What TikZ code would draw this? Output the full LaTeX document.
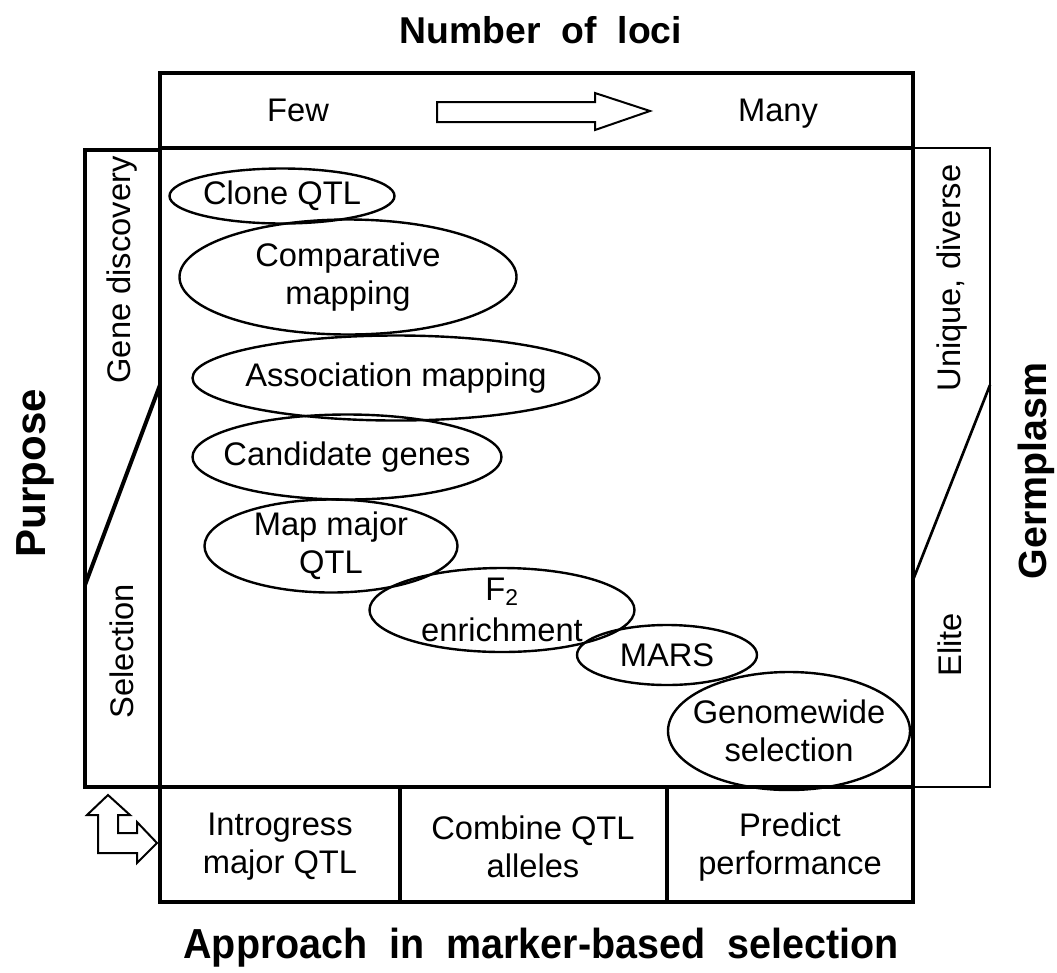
\documentclass[tikz,border=0pt]{standalone}
\usepackage{fontspec}
\setmainfont{Liberation Sans}
\usetikzlibrary{shapes.geometric}

\begin{document}
\begin{tikzpicture}[x=0.75pt,y=-0.75pt,
  lbl/.style={font=\fontsize{24.5}{28.5}\selectfont, align=center, inner sep=0pt},
  head/.style={font=\bfseries\fontsize{28}{33}\selectfont, inner sep=0pt},
  frame/.style={line width=3pt},
  thinframe/.style={line width=2pt},
  oval/.style 2 args={draw, ellipse, line width=1.8pt, inner sep=0pt,
    minimum width=#1*0.75pt, minimum height=#2*0.75pt},
  hollow/.style={draw, line width=1.5pt, fill=white, line join=miter}]

\useasboundingbox (0,0) rectangle (1057,972);

% headings
\node[head] (ttop) at (541,30) {Number\ \ of\ \ loci};
\node[head, font=\bfseries\fontsize{31.5}{36}\selectfont, xscale=0.94] (tbot) at (541,948)
  {Approach\ \ in\ \ marker-based\ \ selection};
\node[head, font=\bfseries\fontsize{31.5}{36}\selectfont, rotate=90] (tpur) at (35,473) {Purpose};
\node[head, font=\bfseries\fontsize{29.5}{34}\selectfont, rotate=90] (tger) at (1036,471) {Germplasm};

% side panels
\draw[frame] (85,150) rectangle (160,787);
\draw[frame] (85,585) -- (160,385);
\draw[thinframe] (913,148) rectangle (990,787);
\draw[thinframe] (913,580) -- (990,385);

% top strip, main field and bottom row
\draw[frame] (160,73) rectangle (913,148);
\draw[frame] (160,148) rectangle (913,787);
\draw[frame] (160,787) rectangle (913,902);
\draw[frame] (400,787) -- (400,902);
\draw[frame] (667,787) -- (667,902);

% top strip contents
\node[lbl, anchor=base] (few) at (298,121) {Few};
\node[lbl, anchor=base] (many) at (778,121) {Many};
\draw[hollow] (437,102) -- (595,102) -- (595,93) -- (650,111) -- (595,130)
  -- (595,122) -- (437,122) -- cycle;

% side labels
\node[lbl, rotate=90] (gene) at (122,270) {Gene discovery};
\node[lbl, rotate=90] (sel) at (122,651) {Selection};
\node[lbl, rotate=90] (uniq) at (952,278) {Unique, diverse};
\node[lbl, rotate=90] (elite) at (950,645) {Elite};

% bottom row labels
\node[lbl] (intro) at (280,847) {Introgress\\major QTL};
\node[lbl] (comb) at (533,847) {Combine QTL\\alleles};
\node[lbl] (pred) at (790,847) {Predict\\performance};

% corner double arrow
\draw[hollow] (108,795) -- (130,815) -- (118,815) -- (118,833) -- (137,833)
  -- (137,822) -- (157,843) -- (137,863) -- (137,853) -- (98,853) -- (98,815)
  -- (87,815) -- cycle;

% approaches
\node[oval={225}{55}] (clone) at (282,196) {};
\node[oval={337}{115}] (comp) at (348,277) {};
\node[oval={407}{85}] (assoc) at (396,378) {};
\node[oval={309}{85}] (cand) at (347,457) {};
\node[oval={253}{93}] (mapq) at (331,546) {};
\node[oval={265}{84}] (ftwo) at (502,610) {};
\node[oval={180}{60}] (mars) at (667,655) {};
\node[oval={242}{118}] (gws) at (789,731) {};

\node[lbl] at (clone) {Clone QTL};
\node[lbl] at (comp) {Comparative\\mapping};
\node[lbl] at (assoc) {Association mapping};
\node[lbl] at (cand) {Candidate genes};
\node[lbl] at (mapq) {Map major\\QTL};
\node[lbl, font=\fontsize{24.5}{31}\selectfont] at (ftwo) {F\textsubscript{2}\\enrichment};
\node[lbl] at (mars) {MARS};
\node[lbl] at (gws) {Genomewide\\selection};

\end{tikzpicture}
\end{document}
